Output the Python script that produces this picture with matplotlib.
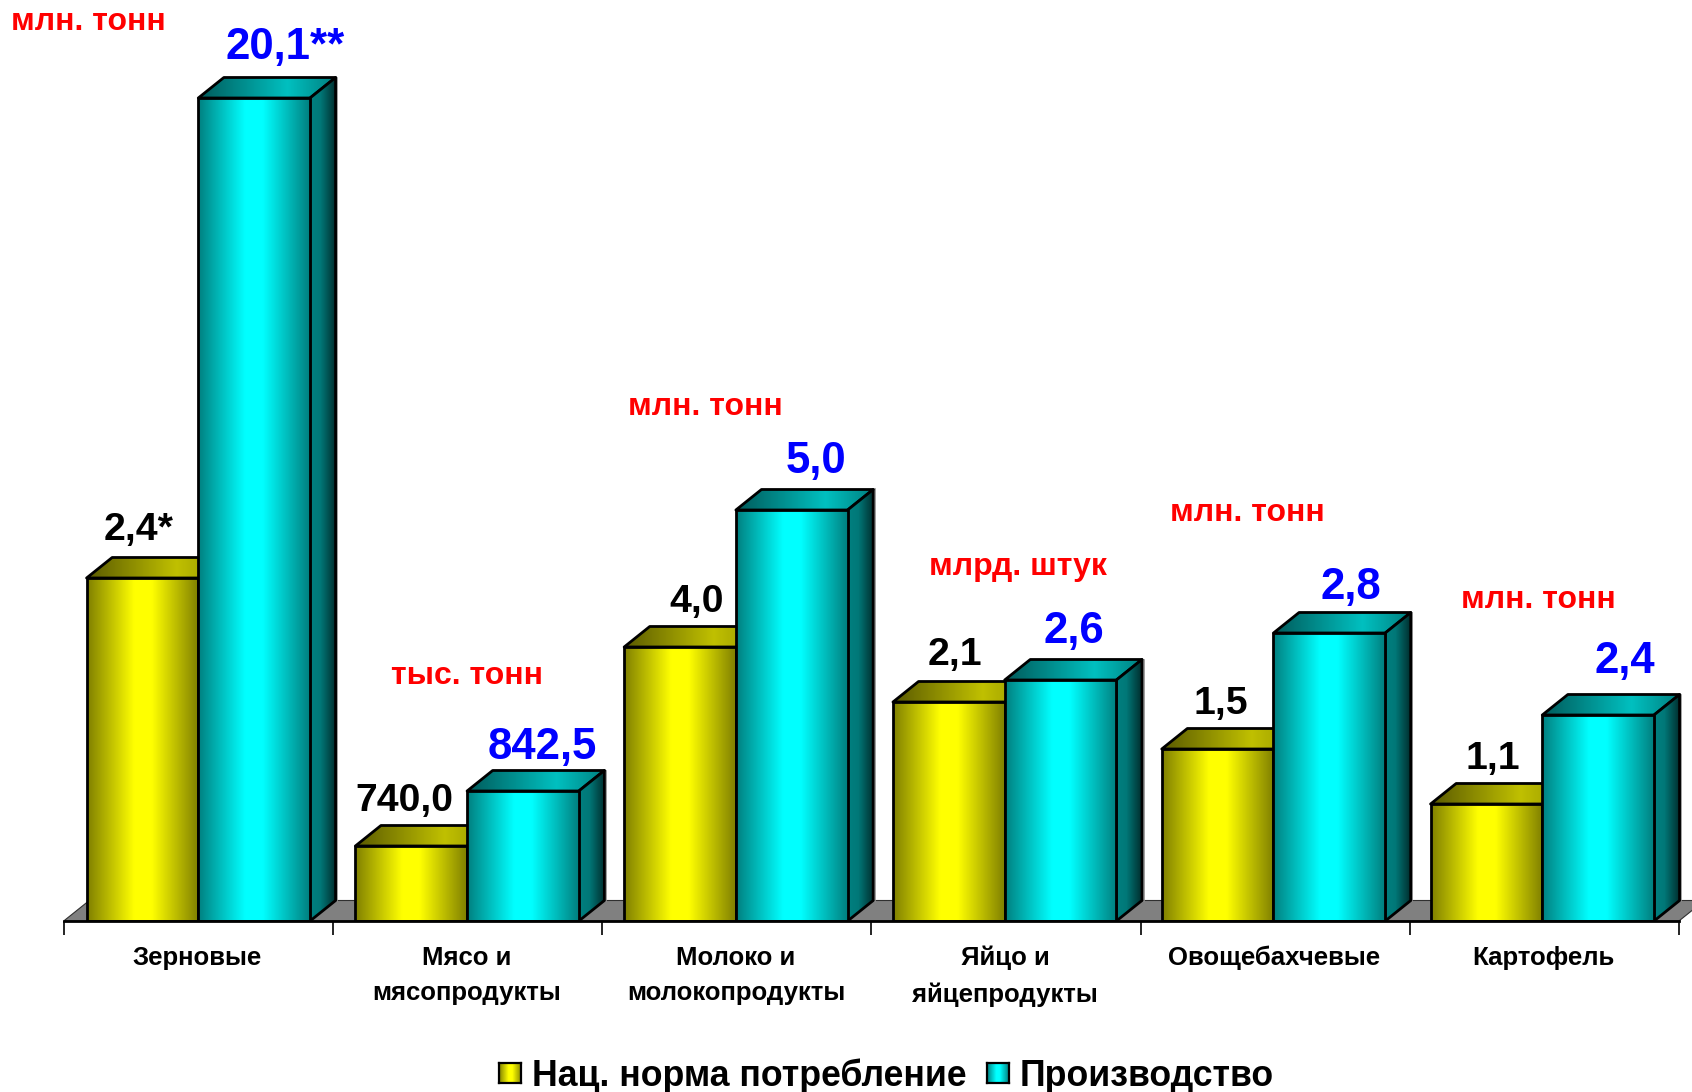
import numpy as np
import matplotlib
matplotlib.use('Agg')
import matplotlib.pyplot as plt
from matplotlib.patches import Polygon

W, H = 1692, 1092

categories = ['Зерновые', 'Мясо и\nмясопродукты', 'Молоко и\nмолокопродукты',
              'Яйцо и\nяйцепродукты', 'Овощебахчевые', 'Картофель']
series_names = ['Нац. норма потребление', 'Производство']

# bar heights as drawn (hidden value axis, each group has its own unit)
norm_heights = [3.43, 0.75, 2.74, 2.19, 1.72, 1.17]
prod_heights = [8.23, 1.30, 4.11, 2.41, 2.88, 2.06]

norm_labels = ['2,4*', '740,0', '4,0', '2,1', '1,5', '1,1']
prod_labels = ['20,1**', '842,5', '5,0', '2,6', '2,8', '2,4']
units = ['млн. тонн', 'тыс. тонн', 'млн. тонн', 'млрд. штук', 'млн. тонн', 'млн. тонн']

# label centres in pixels
norm_label_xy = [(139, 530), (404, 801), (697, 602), (955, 655), (1221, 704), (1493, 759)]
prod_label_xy = [(285, 48), (542, 748), (816, 461), (1074, 631), (1351, 587), (1625, 662)]
unit_xy = [(88, 22), (467, 676), (705, 407), (1018, 567), (1247, 513), (1538, 600)]

X0, Y0 = 63.7, 921
CAT_W = 269.2
BAR_W = 0.415
BAR_PITCH = 0.9985  # groups sit a touch closer than the ticks
DX, DY = 0.095, 0.205
EDGE = 2.0

YELLOW = {
    'front': ([0, .42, .58, 1], [(128, 128, 0), (255, 255, 0), (255, 255, 0), (128, 128, 0)]),
    'top': ([0, .65, 1], [(90, 90, 0), (192, 192, 0), (150, 150, 0)]),
}
TEAL = {
    'front': ([0, .42, .58, 1], [(0, 128, 128), (0, 255, 255), (0, 255, 255), (0, 128, 128)]),
    'top': ([0, .65, 1], [(0, 90, 90), (0, 192, 192), (0, 128, 128)]),
    'side': ([0, .4, 1], [(0, 128, 128), (0, 120, 120), (0, 45, 45)]),
}


def gradient(stops):
    pos, cols = stops
    t = np.linspace(0, 1, 128)
    rgb = [np.interp(t, pos, [c[k] for c in cols]) for k in range(3)]
    return np.dstack(rgb) / 255


def shaded_face(ax, corners, stops, z):
    pts = np.array(corners)
    patch = Polygon(pts, closed=True, facecolor='none', edgecolor='black',
                    linewidth=EDGE, joinstyle='round', zorder=z + 0.5)
    ax.add_patch(patch)
    im = ax.imshow(gradient(stops), aspect='auto', zorder=z, interpolation='bilinear',
                   extent=[pts[:, 0].min(), pts[:, 0].max(), pts[:, 1].min(), pts[:, 1].max()])
    im.set_clip_path(patch)


def draw_bar(ax, left, height, style, z):
    right = left + BAR_W
    shaded_face(ax, [(left, height), (left + DX, height + DY), (right + DX, height + DY), (right, height)],
                style['top'], z)
    if 'side' in style:
        # thin grey line the original leaves beside the side face
        ax.plot([right + DX + 0.006] * 2, [DY, height + DY], color='#909090', lw=1.2, zorder=z)
        shaded_face(ax, [(right, 0), (right + DX, DY), (right + DX, height + DY), (right, height)],
                    style['side'], z + 1)
    shaded_face(ax, [(left, 0), (left, height), (right, height), (right, 0)], style['front'], z + 2)


def px_text(fig, xy, s, **kw):
    fig.text(xy[0] / W, 1 - xy[1] / H, s, ha='center', va='center', fontweight='bold', **kw)


plt.rcParams['font.family'] = ['Liberation Sans', 'DejaVu Sans']

fig = plt.figure(figsize=(W / 100, H / 100), dpi=100, facecolor='white')
ax = fig.add_axes([X0 / W, 1 - Y0 / H, (W - X0) / W, Y0 / H])

# floor
ax.add_patch(Polygon([(0, 0), (6, 0), (6 + DX, DY), (DX, DY)], closed=True, facecolor='#808080',
                     edgecolor='#303030', linewidth=0.8, zorder=1))

z = 2
for i in range(len(categories)):
    mid = i * BAR_PITCH + 0.5
    draw_bar(ax, mid - BAR_W, norm_heights[i], YELLOW, z)
    draw_bar(ax, mid, prod_heights[i], TEAL, z + 3)
    z += 6

ax.set_xlim(0, (W - X0) / CAT_W)
ax.set_ylim(0, Y0 / 100)
ax.patch.set_alpha(0)
for s in ['top', 'left', 'right']:
    ax.spines[s].set_visible(False)
ax.spines['bottom'].set_bounds(0, 6)
ax.spines['bottom'].set_linewidth(EDGE)
ax.spines['bottom'].set_zorder(200)
ax.set_yticks([])
ax.set_xticks(range(7))
ax.set_xticklabels([])
ax.tick_params(axis='x', which='major', length=10, width=1.2)
ax.set_xticks(np.arange(6) + 0.497, minor=True)
ax.set_xticklabels(categories, minor=True, fontsize=18.5, fontweight='bold', linespacing=1.6)
ax.tick_params(axis='x', which='minor', length=0, pad=18)

for xy, s in zip(norm_label_xy, norm_labels):
    px_text(fig, xy, s, fontsize=28.3, color='black')
for xy, s in zip(prod_label_xy, prod_labels):
    px_text(fig, xy, s, fontsize=31.5, color='#0000FF')
for xy, s in zip(unit_xy, units):
    px_text(fig, xy, s, fontsize=23, color='#FF0000')

# legend
for name, style, key_x, text_x in zip(series_names, [YELLOW, TEAL], [499, 987], [532, 1020]):
    key = fig.add_axes([key_x / W, 1 - 1083 / H, 22 / W, 20 / H])
    key.imshow(gradient(style['front']), aspect='auto')
    key.set_xticks([])
    key.set_yticks([])
    for s in key.spines.values():
        s.set_linewidth(1.6)
    fig.text(text_x / W, 1 - 1076 / H, name, ha='left', va='center', fontsize=25.7, fontweight='bold')

fig.savefig('out.png', dpi=100)
